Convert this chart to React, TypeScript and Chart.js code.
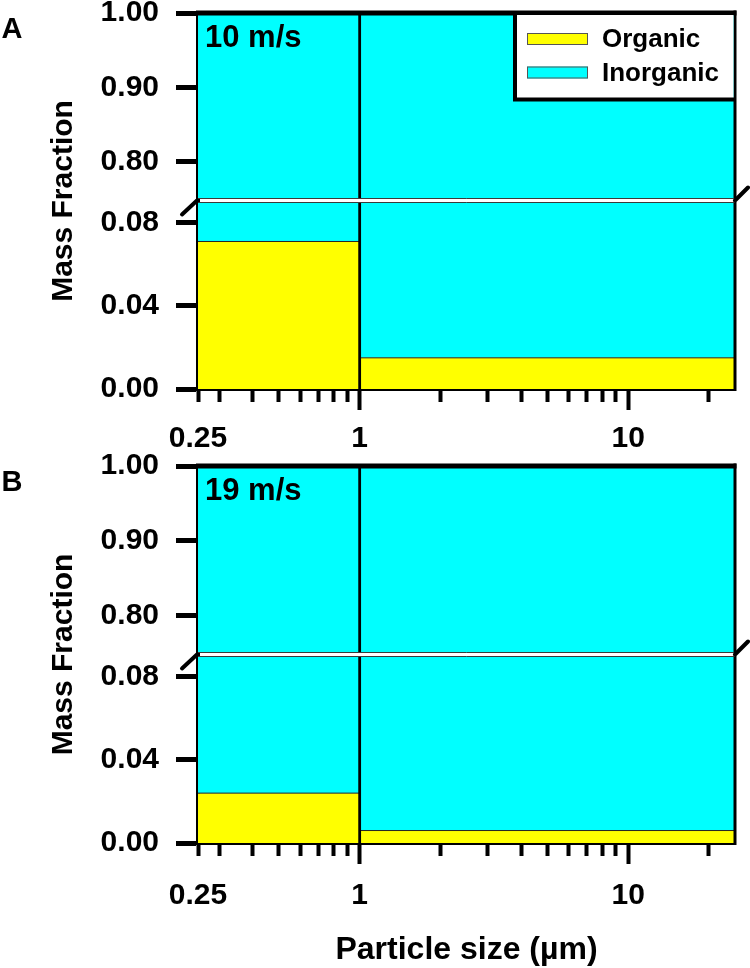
import React, { useEffect, useRef } from 'react';
import { Chart, registerables } from 'chart.js';

Chart.register(...registerables);

const FONT = '"Liberation Sans", Arial, Helvetica, sans-serif';
Chart.defaults.font.family = FONT;
Chart.defaults.color = '#000';

// ---------------- data ----------------
const binEdges = [0.25, 1, 25]; // particle-size bin edges (µm)
const organicA = [0.071, 0.015];
const inorganicA = [0.929, 0.985];
const organicB = [0.024, 0.006];
const inorganicB = [0.976, 0.994];
const seriesLabels = ['Organic', 'Inorganic'];
const seriesColors = ['#FFFF00', '#00FFFF'];
const panelLetters = ['A', 'B'];
const speedLabels = ['10 m/s', '19 m/s'];
const upperRange = [0.75, 1.0];
const lowerRange = [0, 0.09];
const upperTicks = [0.8, 0.9, 1.0];
const lowerTicks = [0, 0.04, 0.08];
const xRange = [0.25, 25];
const xLabelTicks = [0.25, 1, 10];
const xMinorTicks = [0.25, 0.3, 0.4, 0.5, 0.6, 0.7, 0.8, 0.9, 2, 3, 4, 5, 6, 7, 8, 9, 20];
const yTitle = 'Mass Fraction';
const xTitle = 'Particle size (µm)';

// ---------------- layout ----------------
const W = 750;
const H = 968;
const AXIS_W = 198;
const RIGHT_PAD = 15;
const PANELS = [
  { top: 13, breakTop: 199, breakBottom: 202, bottom: 389, labelPad: 11 },
  { top: 466, breakTop: 653, breakBottom: 656, bottom: 843, labelPad: 14 },
];

const bold = (size: number, lineHeight?: number) =>
  ({ family: FONT, size, weight: 'bold', ...(lineHeight ? { lineHeight } : {}) } as any);

const zeroPad = (s: any) => {
  s.paddingTop = 0;
  s.paddingBottom = 0;
  s.paddingLeft = 0;
  s.paddingRight = 0;
};

const steps = (vals: number[]) =>
  binEdges.map((e, i) => ({ x: e, y: vals[Math.min(i, vals.length - 1)] }));

const line = (ctx: CanvasRenderingContext2D, x1: number, y1: number, x2: number, y2: number) => {
  ctx.beginPath();
  ctx.moveTo(x1, y1);
  ctx.lineTo(x2, y2);
  ctx.stroke();
};

const framePlugin = {
  id: 'frame',
  afterDraw(chart: any, _args: any, opts: any) {
    const { ctx, chartArea: a, scales } = chart;
    const xs = scales.x;
    const seg = opts.segment;
    const panel = PANELS[opts.panel];
    ctx.save();
    ctx.lineCap = 'butt';
    // inner bin edges (bar boundaries)
    ctx.strokeStyle = '#000';
    ctx.lineWidth = 2.8;
    binEdges.slice(1, -1).forEach((e) => {
      const px = xs.getPixelForValue(e);
      line(ctx, px, a.top, px, a.bottom);
    });
    // right frame line
    ctx.lineWidth = 3;
    line(ctx, a.right, a.top - (seg === 'upper' ? 2.5 : 0), a.right, a.bottom + (seg === 'lower' ? 2 : 0));
    if (seg === 'upper') {
      ctx.lineWidth = 5;
      line(ctx, a.left - 2, a.top, a.right + 1.5, a.top);
      ctx.strokeStyle = '#3a3a3a';
      ctx.lineWidth = 1;
      line(ctx, a.left, a.bottom - 0.5, a.right, a.bottom - 0.5);
      // panel texts
      ctx.fillStyle = '#000';
      ctx.textBaseline = 'alphabetic';
      ctx.textAlign = 'left';
      ctx.font = `bold 31px ${FONT}`;
      ctx.fillText(speedLabels[opts.panel], a.left + 7, a.top + 34);
      ctx.font = `bold 29px ${FONT}`;
      ctx.fillText(panelLetters[opts.panel], 1.5, panel.top + 25);
      if (opts.legend) {
        const x0 = 515;
        const y0 = a.top;
        const y1 = a.top + 86.5;
        ctx.fillStyle = '#fff';
        ctx.fillRect(x0, y0 + 2, a.right - x0 - 1.5, y1 - y0 - 2);
        ctx.strokeStyle = '#000';
        ctx.lineWidth = 4;
        ctx.beginPath();
        ctx.moveTo(x0, y0);
        ctx.lineTo(x0, y1);
        ctx.lineTo(a.right, y1);
        ctx.stroke();
        chart.data.datasets.forEach((ds: any, i: number) => {
          const cy = y0 + 26 + i * 33.5;
          ctx.fillStyle = ds.backgroundColor;
          ctx.fillRect(x0 + 12, cy - 6, 61, 12);
          ctx.strokeStyle = '#555';
          ctx.lineWidth = 1;
          ctx.strokeRect(x0 + 12.5, cy - 5.5, 60, 11);
          ctx.fillStyle = '#000';
          ctx.font = `bold 26px ${FONT}`;
          ctx.textBaseline = 'middle';
          ctx.fillText(ds.label, x0 + 87, cy + 1);
        });
      }
    } else {
      ctx.strokeStyle = '#3a3a3a';
      ctx.lineWidth = 1;
      line(ctx, a.left, a.top + 0.5, a.right, a.top + 0.5);
      // axis break marks
      const by = a.top - 1.5;
      ctx.strokeStyle = '#000';
      ctx.lineWidth = 4;
      ctx.lineCap = 'round';
      line(ctx, a.left - 16, by + 14, a.left - 1, by);
      line(ctx, a.right, by, a.right + 13, by - 13);
      // y title across the whole panel
      ctx.save();
      ctx.translate(64, (panel.top + panel.bottom) / 2);
      ctx.rotate(-Math.PI / 2);
      ctx.fillStyle = '#000';
      ctx.font = `bold 30px ${FONT}`;
      ctx.textAlign = 'center';
      ctx.textBaseline = 'middle';
      ctx.fillText(yTitle, 0, 0);
      ctx.restore();
    }
    ctx.restore();
  },
};

function makeConfig(panelIdx: number, seg: 'upper' | 'lower'): any {
  const panel = PANELS[panelIdx];
  const organic = panelIdx === 0 ? organicA : organicB;
  const inorganic = panelIdx === 0 ? inorganicA : inorganicB;
  const isUpper = seg === 'upper';
  const isLast = panelIdx === PANELS.length - 1;
  const xAxisH = isLast ? H - panel.bottom : 80;

  const yScale = {
    type: 'linear',
    position: 'left',
    stacked: true,
    min: isUpper ? upperRange[0] : lowerRange[0],
    max: isUpper ? upperRange[1] : lowerRange[1],
    z: 1,
    afterBuildTicks: (s: any) => {
      s.ticks = (isUpper ? upperTicks : lowerTicks).map((v) => ({ value: v }));
    },
    afterFit: (s: any) => {
      s.width = AXIS_W;
      zeroPad(s);
    },
    ticks: {
      autoSkip: false,
      padding: 17,
      font: bold(30),
      color: '#000',
      callback: (v: any) => Number(v).toFixed(2),
    },
    grid: {
      drawOnChartArea: false,
      drawTicks: true,
      tickLength: 22,
      tickWidth: 5,
      tickColor: '#000',
      color: '#000',
      lineWidth: 1,
    },
    border: { display: true, width: 4, color: '#000' },
  };

  const scales: any = { y: yScale };
  if (isUpper) {
    scales.x = { type: 'logarithmic', min: xRange[0], max: xRange[1], display: false };
  } else {
    scales.x = {
      type: 'logarithmic',
      min: xRange[0],
      max: xRange[1],
      position: 'bottom',
      weight: 10,
      z: 1,
      afterBuildTicks: (s: any) => {
        s.ticks = xLabelTicks.map((v) => ({ value: v }));
      },
      afterFit: (s: any) => {
        s.height = xAxisH;
        zeroPad(s);
      },
      ticks: {
        autoSkip: false,
        maxRotation: 0,
        minRotation: 0,
        padding: panel.labelPad,
        font: bold(30),
        color: '#000',
        callback: (v: any) => String(v),
      },
      grid: {
        drawOnChartArea: false,
        drawTicks: true,
        tickLength: 21,
        tickWidth: 4,
        color: '#000',
        lineWidth: 1,
        tickColor: (c: any) => (c.tick && c.tick.value === xLabelTicks[0] ? 'rgba(0,0,0,0)' : '#000'),
      },
      border: { display: true, width: 4, color: '#000' },
      title: isLast
        ? {
            display: true,
            text: xTitle,
            font: bold(32, 1),
            color: '#000',
            padding: { top: 0, bottom: 2 },
          }
        : { display: false },
    };
    scales.xMinor = {
      type: 'logarithmic',
      min: xRange[0],
      max: xRange[1],
      position: 'bottom',
      weight: 0,
      z: 1,
      afterBuildTicks: (s: any) => {
        s.ticks = xMinorTicks.map((v) => ({ value: v }));
      },
      afterFit: (s: any) => {
        s.height = 0;
        zeroPad(s);
      },
      ticks: { display: false },
      grid: {
        drawOnChartArea: false,
        drawTicks: true,
        tickLength: 13,
        tickWidth: 4,
        tickColor: '#000',
        color: '#000',
      },
      border: { display: false },
    };
  }

  const padding = isUpper
    ? { top: panel.top, bottom: H - panel.breakTop, left: 0, right: RIGHT_PAD }
    : { top: panel.breakBottom, bottom: H - panel.bottom - xAxisH, left: 0, right: RIGHT_PAD };

  return {
    type: 'line',
    data: {
      datasets: [
        {
          label: seriesLabels[0],
          data: steps(organic),
          stepped: true,
          fill: 'origin',
          backgroundColor: seriesColors[0],
          borderColor: '#222',
          borderWidth: 1,
          pointRadius: 0,
        },
        {
          label: seriesLabels[1],
          data: steps(inorganic),
          stepped: true,
          fill: '-1',
          backgroundColor: seriesColors[1],
          borderColor: '#222',
          borderWidth: 1,
          pointRadius: 0,
        },
      ],
    },
    options: {
      responsive: false,
      animation: false,
      events: [],
      layout: { padding },
      scales,
      plugins: {
        legend: { display: false },
        tooltip: { enabled: false },
        frame: { segment: seg, panel: panelIdx, legend: isUpper && panelIdx === 0 },
      },
    },
    plugins: [framePlugin],
  };
}

const SEGMENTS: Array<[number, 'upper' | 'lower']> = [
  [0, 'upper'],
  [0, 'lower'],
  [1, 'upper'],
  [1, 'lower'],
];

export default function App() {
  const refs = useRef<Array<HTMLCanvasElement | null>>([]);

  useEffect(() => {
    const charts = SEGMENTS.map(([p, s], i) => new Chart(refs.current[i] as HTMLCanvasElement, makeConfig(p, s)));
    return () => charts.forEach((c) => c.destroy());
  }, []);

  return (
    <div style={{ position: 'absolute', left: 0, top: 0, width: W, height: H, background: '#fff' }}>
      {SEGMENTS.map((_, i) => (
        <canvas
          key={i}
          ref={(el) => {
            refs.current[i] = el;
          }}
          width={W}
          height={H}
          style={{ position: 'absolute', left: 0, top: 0, width: W, height: H }}
        />
      ))}
    </div>
  );
}
